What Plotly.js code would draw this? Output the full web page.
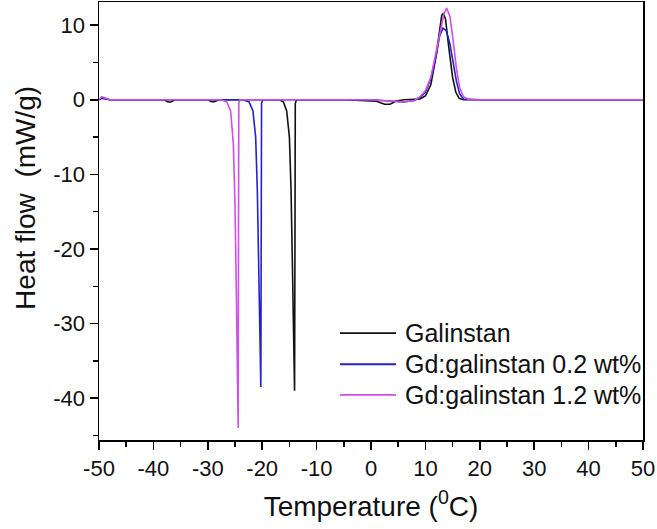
<!DOCTYPE html>
<html>
<head>
<meta charset="utf-8">
<script src="https://cdn.plot.ly/plotly-3.0.1.min.js"></script>
<style>html,body{margin:0;padding:0;background:#fff;}#chart{width:657px;height:529px;}</style>
</head>
<body>
<div id="chart"></div>
<script>
// Data
var seriesNames = ["Galinstan", "Gd:galinstan 0.2 wt%", "Gd:galinstan 1.2 wt%"];

var galX = [-50, -49.5, -48, -38, -37.3, -36.8, -36, -30, -29.3, -28.8, -28, -16.8, -16.1, -15.5, -15.0, -14.7, -14.45, -14.25, -14.12, -14.05, -13.98, -13.92, -13.7, -5, 1, 2.5, 3.5, 4.5, 6, 9, 10, 11, 12, 12.5, 13, 13.3, 13.7, 14.3, 15, 15.6, 16.2, 17, 20, 50];
var galY = [0, 0.2, 0, 0, -0.3, -0.3, 0, 0, -0.25, -0.25, 0, 0, -0.3, -1.5, -5, -12, -22, -32, -39, -39, -20, -0.5, 0, 0, -0.2, -0.6, -0.6, -0.2, 0, 0.1, 0.5, 2, 6, 9, 11.3, 11.6, 10.8, 7, 3, 1, 0.2, 0, 0, 0];

var gd02X = [-50, -49.5, -48, -23.5, -22.4, -21.7, -21.2, -20.9, -20.65, -20.45, -20.32, -20.25, -20.18, -20.12, -19.9, 0, 4, 6, 8, 9, 10, 11, 12, 12.6, 13.2, 13.8, 14.5, 15.1, 15.7, 16.3, 17, 20, 50];
var gd02Y = [0, 0.3, 0, 0, -0.3, -1.5, -5, -12, -22, -31, -38.5, -38.5, -18, -0.5, 0, 0, -0.2, -0.3, -0.1, 0.3, 1, 2.8, 6, 8.5, 9.6, 9.3, 7.5, 5, 2.5, 0.8, 0.1, 0, 0];

var gd12X = [-50, -49.5, -48, -27.5, -26.5, -25.8, -25.3, -25, -24.75, -24.58, -24.48, -24.42, -24.36, -24.3, -24.1, 0, 4, 6, 8, 9, 10, 11, 12, 12.8, 13.4, 13.9, 14.5, 15.1, 15.7, 16.3, 17, 18, 20, 50];
var gd12Y = [0, 0.4, 0, 0, -0.3, -1.5, -6, -14, -26, -36, -44, -44, -20, -0.5, 0, 0, -0.2, -0.3, -0.1, 0.4, 1.2, 3, 6.5, 9.5, 11.5, 12.3, 11.2, 8, 4.2, 1.6, 0.4, 0.05, 0, 0];

var xTicks = [-50, -40, -30, -20, -10, 0, 10, 20, 30, 40, 50];
var yTicks = [-40, -30, -20, -10, 0, 10];

var xTitle = "Temperature (<sup>0</sup>C)";
var yTitle = "Heat flow&nbsp;&nbsp;(mW/g)";

var colors = ["#111111", "#2222cc", "#d44cee"];
var FONT = "Liberation Sans, Arial, sans-serif";

var traces = [
  {x: galX, y: galY, name: seriesNames[0], mode: "lines", line: {color: colors[0], width: 1.6}},
  {x: gd02X, y: gd02Y, name: seriesNames[1], mode: "lines", line: {color: colors[1], width: 1.6}},
  {x: gd12X, y: gd12Y, name: seriesNames[2], mode: "lines", line: {color: colors[2], width: 1.6}}
];

// Compact legend built from the series names
var legendRowsY = [0.244, 0.173, 0.103];
var shapes = [], annotations = [];
for (var i = 0; i < seriesNames.length; i++) {
  shapes.push({type: "line", xref: "paper", yref: "paper", x0: 0.443, x1: 0.546,
               y0: legendRowsY[i], y1: legendRowsY[i], line: {color: colors[i], width: 1.8}});
  annotations.push({xref: "paper", yref: "paper", x: 0.558, y: legendRowsY[i], xanchor: "left",
                    yanchor: "middle", showarrow: false, text: seriesNames[i],
                    font: {family: FONT, size: 25, color: "#111"}});
}
// y-axis title (placed slightly above plot centre as in the reference)
annotations.push({xref: "paper", yref: "paper", x: -0.134, y: 0.553, xanchor: "center",
                  yanchor: "middle", showarrow: false, textangle: -90, text: yTitle,
                  font: {family: FONT, size: 28, color: "#111"}});

var axisCommon = {
  showgrid: false, zeroline: false, showline: true, linecolor: "#000", linewidth: 1.5,
  mirror: true, ticks: "outside", ticklen: 8, tickwidth: 1.5, tickcolor: "#000",
  tickfont: {family: FONT, size: 22, color: "#111"},
  minor: {ticks: "outside", ticklen: 5, tickwidth: 1.5, tickcolor: "#000", dtick: 5}
};

var layout = {
  width: 657, height: 529,
  margin: {l: 99, r: 14, t: 2, b: 89},
  paper_bgcolor: "#fff", plot_bgcolor: "#fff",
  showlegend: false,
  shapes: shapes,
  annotations: annotations,
  xaxis: Object.assign({}, axisCommon, {
    range: [-50, 50], tickvals: xTicks, ticktext: xTicks.map(String),
    title: {text: xTitle, standoff: 16, font: {family: FONT, size: 28, color: "#111"}}
  }),
  yaxis: Object.assign({}, axisCommon, {
    range: [-45.6, 13.1], tickvals: yTicks, ticktext: yTicks.map(String)
  })
};

Plotly.newPlot("chart", traces, layout, {staticPlot: true, displayModeBar: false});
</script>
</body>
</html>
